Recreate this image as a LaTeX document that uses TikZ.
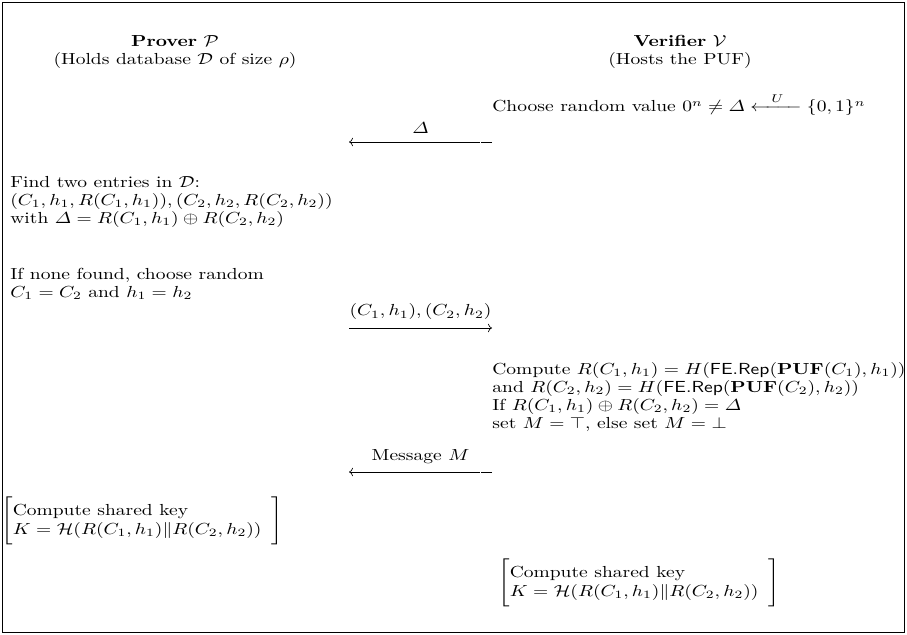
\documentclass[tikz,border=0pt]{standalone}
\usepackage{amsmath,amssymb}
\usepackage{tikz}
\usetikzlibrary{positioning,arrows.meta}
\newcommand{\sharedkey}{\Biggl[\begin{array}{@{}l}\text{Compute shared key}\\ K=\mathcal{H}(R(C_1,h_1)\|R(C_2,h_2))\end{array}\Biggr]}
\tikzset{
    party/.style={align=center, inner sep=0pt, xscale=1.22, font=\fontsize{10pt}{11.25pt}\selectfont},
    txt/.style={align=left, inner sep=0pt, xscale=1.22, font=\fontsize{10pt}{11.25pt}\selectfont},
    lbl/.style={inner sep=0pt, xscale=1.22, above=5pt},
    keybox/.style={inner sep=0pt, xscale=1.22, anchor=west},
    msg/.style={-To, line width=0.4pt},
    msgback/.style={msg, dash pattern=on 6.9pt off 0.7pt on 200pt}
}

\begin{document}
\begin{tikzpicture}[x=0.625pt, y=-0.625pt]
\useasboundingbox (0,0) rectangle (907,635);
\draw[line width=0.6pt] (2,2) rectangle (904,632);

% Parties
\node[party, anchor=north] (prover) at (175,35) {\textbf{Prover} $\mathcal{P}$\\(Holds database $\mathcal{D}$ of size $\rho$)};
\node[party, anchor=north] (verifier) at (680,35) {\textbf{Verifier} $\mathcal{V}$\\(Hosts the PUF)};

% Challenge
\node[txt, anchor=base west] (choose) at (492,112) {Choose random value $0^n \neq \varDelta \xleftarrow{\;\;\;U\;\;\;} \{0,1\}^n$};
\coordinate (p1) at (349,142);
\coordinate (v1) at (492,142);
\draw[msgback] (v1) -- node[lbl] {$\varDelta$} (p1);

% Prover side lookup
\node[txt, anchor=north west] (find) at (10,176) {Find two entries in $\mathcal{D}$:\\$(C_1,h_1,R(C_1,h_1)),(C_2,h_2,R(C_2,h_2))$\\with $\varDelta = R(C_1,h_1)\oplus R(C_2,h_2)$};
\node[txt, anchor=north west] (fallback) at (10,268) {If none found, choose random\\$C_1=C_2$ and $h_1=h_2$};
\coordinate (p2) at (349,328);
\coordinate (v2) at (492,328);
\draw[msg] (p2) -- node[lbl] {$(C_1,h_1),(C_2,h_2)$} (v2);

% Verifier side check
\node[txt, anchor=north west] (check) at (492,362) {Compute $R(C_1,h_1)=H(\mathsf{FE.Rep}(\mathbf{PUF}(C_1),h_1))$\\and $R(C_2,h_2)=H(\mathsf{FE.Rep}(\mathbf{PUF}(C_2),h_2))$\\If $R(C_1,h_1)\oplus R(C_2,h_2)=\varDelta$\\set $M=\top$, else set $M=\bot$};
\coordinate (p3) at (349,472);
\coordinate (v3) at (492,472);
\draw[msgback] (v3) -- node[lbl] {Message $M$} (p3);

% Shared keys
\node[keybox] (pkey) at (1,521) {$\sharedkey$};
\node[keybox] (vkey) at (498,583) {$\sharedkey$};

\end{tikzpicture}
\end{document}
